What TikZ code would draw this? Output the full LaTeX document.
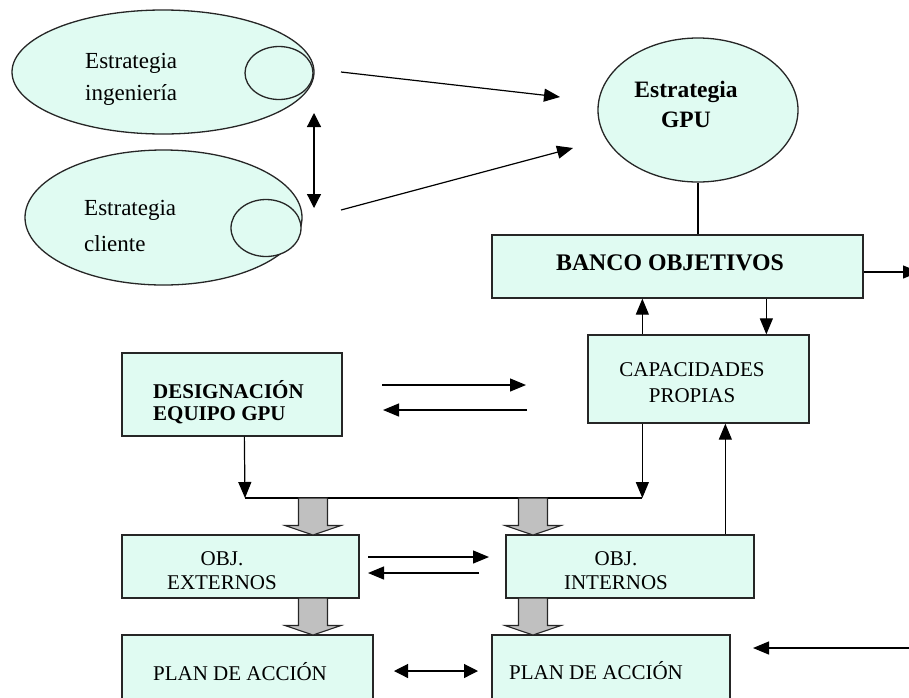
\documentclass[tikz,border=0pt]{standalone}
\usepackage{fontspec}
\setmainfont{Liberation Serif}
\usetikzlibrary{shapes.geometric,arrows.meta,calc}

\definecolor{mint}{RGB}{224,251,242}
\definecolor{blockgray}{RGB}{192,192,192}

\begin{document}
\begin{tikzpicture}[x=1pt,y=-1pt,
  outline/.style={draw=black!85,line width=1.3pt,fill=mint,inner sep=0pt},
  oval/.style={outline,ellipse},
  box/.style={outline,rectangle},
  txt/.style={font=\fontsize{21}{24}\selectfont,inner sep=0pt},
  btxt/.style={font=\fontsize{21}{24}\selectfont\bfseries,inner sep=0pt},
  arr/.style={line width=1.2pt,-{Triangle[length=16pt,width=13pt]}},
  darr/.style={line width=1.2pt,{Triangle[length=14pt,width=14pt]}-{Triangle[length=14pt,width=14pt]}},
  link/.style={line width=1.2pt},
  fat/.style={draw=black!85,line width=1.1pt,fill=blockgray}
]
\useasboundingbox (0,0) rectangle (909,697);
\clip (0,0) rectangle (909,697);

% strategy ellipses
\node[oval,minimum width=302,minimum height=124] (ing) at (163,72) {};
\node[oval,minimum width=68,minimum height=53] (ingS) at (279,73) {};
\node[txt,align=left,anchor=west,font=\fontsize{23}{32}\selectfont] (ingT) at (85,79) {Estrategia\\ingeniería};

\node[oval,minimum width=277,minimum height=135] (cli) at (163.5,217.5) {};
\node[oval,minimum width=70,minimum height=57] (cliS) at (266,228) {};
\node[txt,align=left,anchor=west,font=\fontsize{23}{36}\selectfont] (cliT) at (84,226) {Estrategia\\cliente};

% GPU strategy
\node[oval,minimum width=200,minimum height=144] (gpu) at (698,110) {};
\node[btxt,align=center,font=\fontsize{23.5}{30}\selectfont\bfseries] (gpuT) at (686,104) {Estrategia\\GPU};

% boxes
\node[box,minimum width=371,minimum height=63] (banco) at (677.5,266.5) {};
\node[btxt,font=\fontsize{23.8}{28}\selectfont\bfseries] (bancoT) at (670,263) {BANCO OBJETIVOS};

\node[box,minimum width=221,minimum height=88] (cap) at (698.5,379) {};
\node[txt,align=center,font=\fontsize{21}{26}\selectfont] (capT) at (692,383) {CAPACIDADES\\PROPIAS};

\node[box,minimum width=220,minimum height=83] (des) at (232,394.5) {};
\node[btxt,align=left,anchor=west,font=\fontsize{21}{22}\selectfont\bfseries] (desT) at (153,402) {DESIGNACIÓN\\EQUIPO GPU};

\node[box,minimum width=237,minimum height=63] (ext) at (240.5,566.5) {};
\node[txt,align=center] (extT) at (222,571) {OBJ.\\EXTERNOS};

\node[box,minimum width=248,minimum height=63] (int) at (630,566.5) {};
\node[txt,align=center] (intT) at (616,571) {OBJ.\\INTERNOS};

\node[box,minimum width=251,minimum height=90] (plan1) at (247.5,680) {};
\node[txt] (plan1T) at (240,672) {PLAN DE ACCIÓN};

\node[box,minimum width=238,minimum height=90] (plan2) at (611,680) {};
\node[txt] (plan2T) at (596,671) {PLAN DE ACCIÓN};

% loose arrow ends
\coordinate (i1) at (341,72);   \coordinate (i2) at (560,97);
\coordinate (c1) at (341,210);  \coordinate (c2) at (573,148);
\coordinate (v1) at (314,113);  \coordinate (v2) at (314,208);
\coordinate (dr1) at (382,385); \coordinate (dr2) at (526,385);
\coordinate (dl1) at (527,410); \coordinate (dl2) at (383,410);
\coordinate (er1) at (368,557); \coordinate (er2) at (489,557);
\coordinate (el1) at (479,573); \coordinate (el2) at (368,573);
\coordinate (p1) at (394,671);  \coordinate (p2) at (478,671);
\coordinate (out) at (919,272);
\coordinate (in) at (910,648);  \coordinate (inT) at (753,648);
\coordinate (bus) at (245,498);

% attachment points on the box edges
\coordinate (bankOut) at ($(banco.east)+(0,5.5)$);
\coordinate (capUp)   at ($(cap.north west)+(55,0)$);
\coordinate (capDown) at ($(cap.north west)+(179,0)$);
\coordinate (capLow)  at ($(cap.south west)+(55,0)$);
\coordinate (desLow)  at ($(des.south west)+(123,0)$);
\coordinate (intUp)   at ($(int.north west)+(220,0)$);

% connectors between strategies
\draw[arr] (i1) -- (i2);
\draw[arr] (c1) -- (c2);
\draw[darr] (v1) -- (v2);

% GPU strategy to bank of objectives
\draw[link] (gpu.south) -- (gpu.south |- banco.north);
\draw[arr] (bankOut) -- (out);

% bank <-> capacities
\draw[arr] (capUp) -- (capUp |- banco.south);
\draw[arr] (capDown |- banco.south) -- (capDown);

% team <-> capacities
\draw[arr] (dr1) -- (dr2);
\draw[arr] (dl1) -- (dl2);

% collecting line
\draw[arr] (desLow) -- (bus);
\draw[link] (bus) -- (capLow |- bus);
\draw[arr] (capLow) -- (capLow |- bus);

% internal objectives feed capacities
\draw[arr] (intUp) -- (intUp |- cap.south);

% external <-> internal
\draw[arr] (er1) -- (er2);
\draw[arr] (el1) -- (el2);

% action plans
\draw[darr] (p1) -- (p2);
\draw[arr] (in) -- (inT);

% block arrows
\foreach \cx/\ya/\yb in {313/498/535, 533/498/535, 313/598/635, 533/598/635}{
  \draw[fat] (\cx-14.5,\ya) -- (\cx+14.5,\ya) -- (\cx+14.5,\yb-9.5) -- (\cx+28,\yb-9.5)
    -- (\cx,\yb) -- (\cx-28,\yb-9.5) -- (\cx-14.5,\yb-9.5) -- cycle;
}
\end{tikzpicture}
\end{document}
